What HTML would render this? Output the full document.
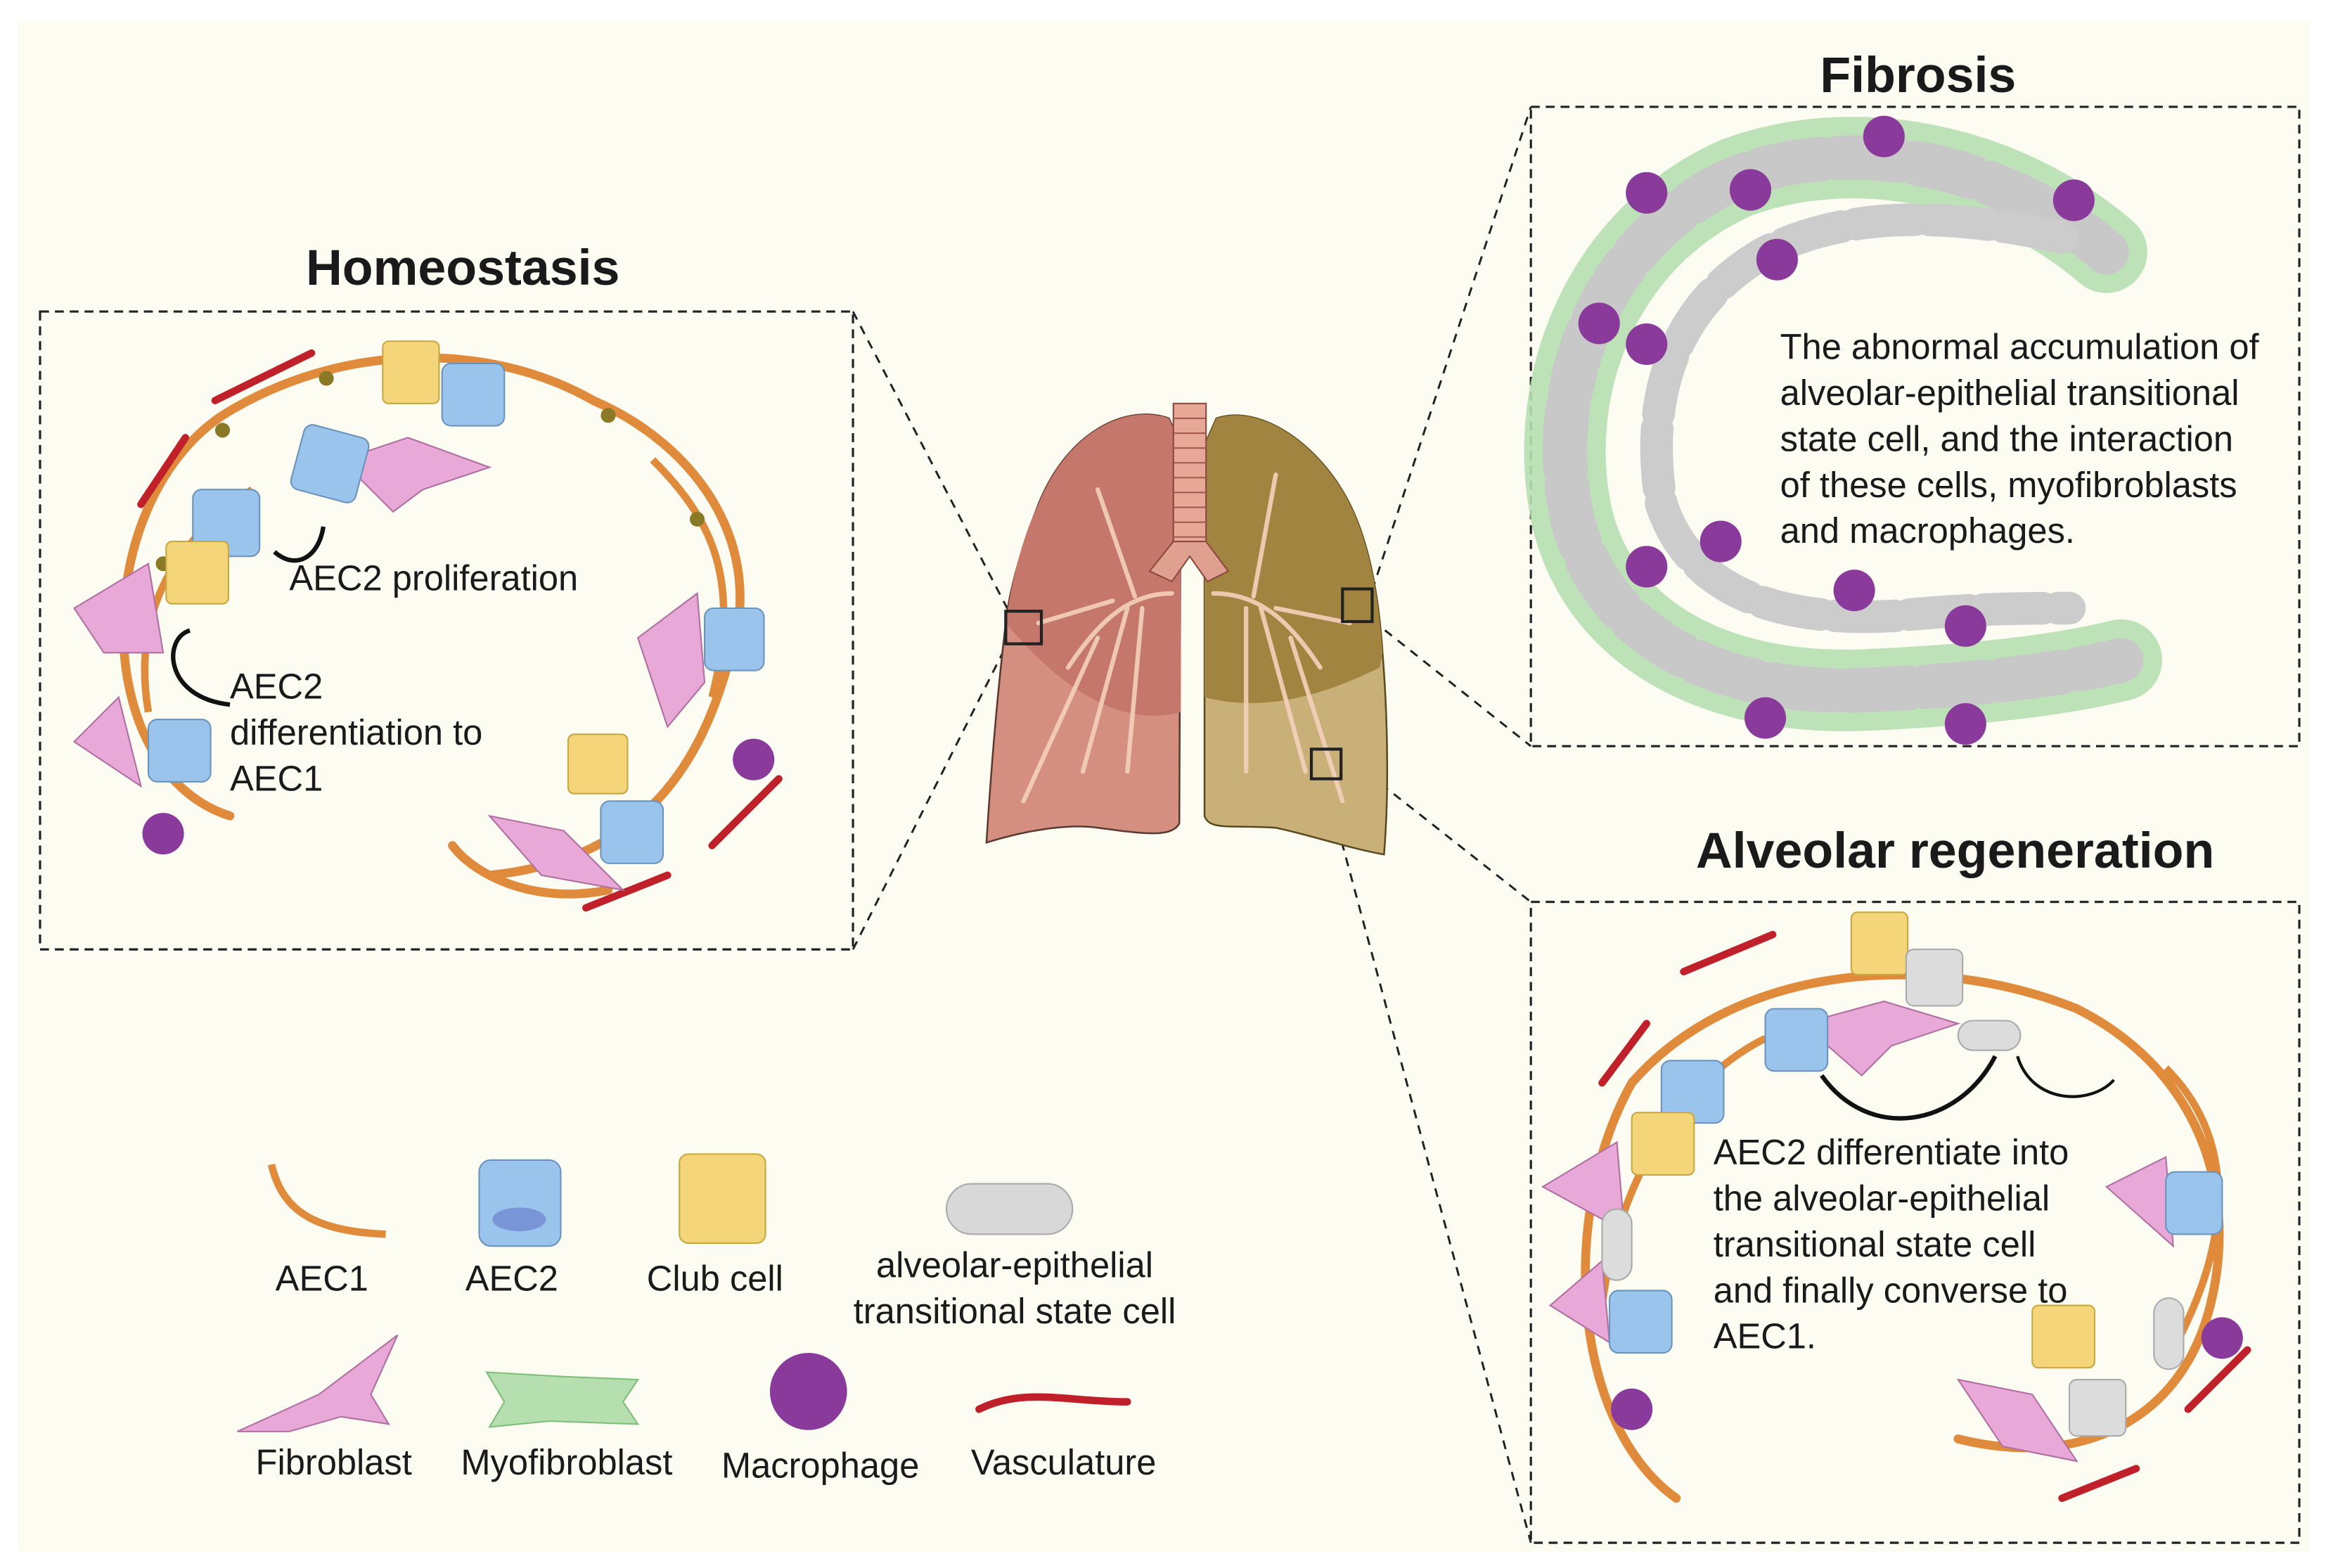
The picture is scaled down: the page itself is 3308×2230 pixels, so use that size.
<!DOCTYPE html>
<html><head><meta charset="utf-8"><style>
html,body{margin:0;padding:0;background:#fff;}
svg{display:block;}
text{font-family:"Liberation Sans",sans-serif;fill:#1a1a1a;}
</style></head><body>
<svg width="3308" height="2230" viewBox="0 0 1568 1057" xmlns="http://www.w3.org/2000/svg">
<rect x="0" y="0" width="1568" height="1057" fill="#fff"/>
<rect x="12" y="14" width="1545" height="1032" fill="#fcfcf2"/>

<g stroke="#222" stroke-width="1.4" stroke-dasharray="6,5" fill="none">
<line x1="575" y1="210" x2="680" y2="412"/>
<line x1="575" y1="640" x2="680" y2="432"/>
<line x1="925" y1="398" x2="1032" y2="72"/>
<line x1="925" y1="418" x2="1032" y2="503"/>
<line x1="905" y1="508" x2="1032" y2="608"/>
<line x1="893" y1="525" x2="1032" y2="1040"/>
</g>

<text x="312" y="192" font-size="34" font-weight="bold" text-anchor="middle">Homeostasis</text>
<text x="1293" y="62" font-size="34" font-weight="bold" text-anchor="middle">Fibrosis</text>
<text x="1318" y="585" font-size="34" font-weight="bold" text-anchor="middle">Alveolar regeneration</text>

<rect x="27" y="210" width="548" height="430" fill="none" stroke="#222" stroke-width="1.5" stroke-dasharray="6,4"/>
<rect x="1032" y="72" width="518" height="431" fill="none" stroke="#222" stroke-width="1.5" stroke-dasharray="6,4"/>
<rect x="1032" y="608" width="518" height="432" fill="none" stroke="#222" stroke-width="1.5" stroke-dasharray="6,4"/>

<g>
<path d="M788 282 C760 272 720 290 700 340 C688 370 680 400 678 420 C672 470 668 520 665 568 C690 560 720 555 740 558 C770 562 790 565 795 555 L796 300 Z" fill="#d58f80" stroke="#5a3a30" stroke-width="1.2"/>
<path d="M700 340 C720 290 760 272 788 282 L796 300 L796 480 C760 490 720 470 678 420 C682 390 690 360 700 340Z" fill="#c4776a"/>
<path d="M820 282 C850 272 890 300 910 340 C925 370 930 410 932 440 C936 490 936 540 933 576 C910 572 880 562 860 558 C830 556 815 560 812 550 L812 300 Z" fill="#c9b078" stroke="#5a4a20" stroke-width="1.2"/>
<path d="M820 282 C850 272 890 300 910 340 C925 370 930 410 932 440 L930 450 C890 470 850 480 812 470 L812 300Z" fill="#a1843f"/>
<rect x="791" y="272" width="22" height="100" fill="#e8a898" stroke="#8a4a40" stroke-width="1"/>
<g stroke="#a05a50" stroke-width="1"><line x1="791" y1="282" x2="813" y2="282"/><line x1="791" y1="292" x2="813" y2="292"/><line x1="791" y1="302" x2="813" y2="302"/><line x1="791" y1="312" x2="813" y2="312"/><line x1="791" y1="322" x2="813" y2="322"/><line x1="791" y1="332" x2="813" y2="332"/><line x1="791" y1="342" x2="813" y2="342"/><line x1="791" y1="352" x2="813" y2="352"/><line x1="791" y1="362" x2="813" y2="362"/></g>
<path d="M791 365 L775 385 L790 392 L802 375 L814 392 L828 385 L813 365Z" fill="#e0a090" stroke="#8a4a40" stroke-width="1"/>
<g stroke="#f4d0bb" stroke-width="3" fill="none" stroke-linecap="round" opacity="0.9">
<path d="M790 400 C760 400 740 420 720 450 M765 402 L740 330 M750 405 L700 420 M760 410 L730 520 M770 410 L760 520 M740 430 L690 540"/>
<path d="M818 400 C850 400 870 420 890 450 M845 402 L860 320 M860 410 L910 420 M850 410 L880 520 M840 410 L840 520 M870 430 L905 540"/>
</g>
<rect x="678" y="412" width="24" height="22" fill="none" stroke="#222" stroke-width="2"/>
<rect x="905" y="397" width="20" height="22" fill="none" stroke="#222" stroke-width="2"/>
<rect x="884" y="505" width="20" height="20" fill="none" stroke="#222" stroke-width="2"/>
</g>

<g>
<path d="M155 550 C60 520 60 340 150 280 C230 230 330 230 400 270 C470 300 520 370 490 450 C470 520 430 580 330 590 M410 600 C360 610 320 590 305 570" fill="none" stroke="#e08a3c" stroke-width="6" stroke-linecap="round"/>
<path d="M100 480 C90 420 110 370 170 330 M440 310 C480 350 500 390 480 470" fill="none" stroke="#e08a3c" stroke-width="5"/>
<g fill="#8a7a28"><circle cx="110" cy="380" r="5"/><circle cx="150" cy="290" r="5"/><circle cx="220" cy="255" r="5"/><circle cx="330" cy="260" r="5"/><circle cx="410" cy="280" r="5"/><circle cx="470" cy="350" r="5"/><circle cx="485" cy="440" r="5"/><circle cx="440" cy="550" r="5"/><circle cx="120" cy="520" r="5"/></g>
<g stroke="#c0202a" stroke-width="5" fill="none" stroke-linecap="round"><path d="M145 270 L210 238"/><path d="M125 295 L95 340"/><path d="M395 612 L450 590"/><path d="M480 570 L525 525"/></g>
<g fill="#e8a8d8" stroke="#b070a0"><path d="M230 310 L275 295 L330 315 L285 330 L265 345Z"/><path d="M50 410 L100 380 L110 440 L70 440Z"/><path d="M430 430 L470 400 L475 460 L450 490Z"/><path d="M330 550 L380 560 L420 600 L365 590 Z"/><path d="M50 500 L80 470 L95 530Z"/></g>
<g fill="#9ac4ec" stroke="#6a94bc"><rect x="200" y="290" width="45" height="45" rx="6" transform="rotate(15 222 312)"/><rect x="298" y="245" width="42" height="42" rx="6"/><rect x="130" y="330" width="45" height="45" rx="6"/><rect x="100" y="485" width="42" height="42" rx="6"/><rect x="475" y="410" width="40" height="42" rx="6"/><rect x="405" y="540" width="42" height="42" rx="6"/></g>
<g fill="#f4d57a" stroke="#c8a840"><rect x="258" y="230" width="38" height="42" rx="4"/><rect x="112" y="365" width="42" height="42" rx="4"/><rect x="383" y="495" width="40" height="40" rx="4"/></g>
<g fill="#8a3a9a"><circle cx="508" cy="512" r="14"/><circle cx="110" cy="562" r="14"/></g>
<path d="M185 372 C200 385 215 375 218 355" fill="none" stroke="#111" stroke-width="3"/>
<path d="M155 475 C110 470 110 430 128 425" fill="none" stroke="#111" stroke-width="3"/>
</g>
<text x="195" y="398" font-size="24">AEC2 proliferation</text>
<text font-size="24"><tspan x="155" y="471">AEC2</tspan><tspan x="155" y="502">differentiation to</tspan><tspan x="155" y="533">AEC1</tspan></text>

<g>
<path d="M1420 170 C1350 110 1250 90 1170 120 C1080 160 1040 260 1060 350 C1080 430 1160 470 1260 465 C1330 462 1390 455 1430 445" fill="none" stroke="#b6dfb0" stroke-width="55" stroke-linecap="round" opacity="0.9"/>
<path d="M1420 170 C1350 110 1250 90 1170 120 C1080 160 1040 260 1060 350 C1080 430 1160 470 1260 465 C1330 462 1390 455 1430 445" fill="none" stroke="#c8c8c8" stroke-width="30" stroke-dasharray="40,12" stroke-linecap="round"/>
<path d="M1390 160 C1320 145 1250 140 1190 170 C1120 210 1110 280 1120 340 C1140 400 1200 420 1280 415 C1330 410 1370 410 1395 410" fill="none" stroke="#cccccc" stroke-width="22" stroke-dasharray="40,10" stroke-linecap="round"/>
<g fill="#8a3a9a"><circle cx="1270" cy="92" r="14"/><circle cx="1110" cy="130" r="14"/><circle cx="1180" cy="128" r="14"/><circle cx="1398" cy="135" r="14"/><circle cx="1198" cy="175" r="14"/><circle cx="1078" cy="218" r="14"/><circle cx="1110" cy="232" r="14"/><circle cx="1160" cy="365" r="14"/><circle cx="1110" cy="382" r="14"/><circle cx="1250" cy="398" r="14"/><circle cx="1325" cy="422" r="14"/><circle cx="1190" cy="484" r="14"/><circle cx="1325" cy="488" r="14"/></g>
</g>
<rect x="1195" y="218" width="352" height="155" fill="#fcfcf2"/>
<text font-size="24"><tspan x="1200" y="242">The abnormal accumulation of</tspan><tspan x="1200" y="273">alveolar-epithelial transitional</tspan><tspan x="1200" y="304">state cell, and the interaction</tspan><tspan x="1200" y="335">of these cells, myofibroblasts</tspan><tspan x="1200" y="366">and macrophages.</tspan></text>

<g>
<path d="M1130 1010 C1060 960 1050 820 1100 730 C1170 650 1300 640 1400 680 C1480 720 1510 800 1490 880 C1470 960 1400 990 1320 970" fill="none" stroke="#e08a3c" stroke-width="6" stroke-linecap="round"/>
<path d="M1080 880 C1090 800 1130 730 1190 700 M1460 720 C1500 760 1510 820 1470 900" fill="none" stroke="#e08a3c" stroke-width="5"/>
<g stroke="#c0202a" stroke-width="5" fill="none" stroke-linecap="round"><path d="M1135 655 L1195 630"/><path d="M1110 690 L1080 730"/><path d="M1390 1010 L1440 990"/><path d="M1475 950 L1515 910"/></g>
<g fill="#e8a8d8" stroke="#b070a0"><path d="M1215 690 L1270 675 L1320 690 L1275 705 L1255 725Z"/><path d="M1040 800 L1090 770 L1095 830Z"/><path d="M1420 800 L1460 780 L1465 840Z"/><path d="M1320 930 L1370 940 L1400 985 L1350 975 Z"/><path d="M1045 880 L1080 850 L1085 905Z"/></g>
<g fill="#9ac4ec" stroke="#6a94bc"><rect x="1190" y="680" width="42" height="42" rx="6"/><rect x="1120" y="715" width="42" height="42" rx="6"/><rect x="1085" y="870" width="42" height="42" rx="6"/><rect x="1460" y="790" width="38" height="42" rx="6"/></g>
<g fill="#f4d57a" stroke="#c8a840"><rect x="1248" y="615" width="38" height="42" rx="4"/><rect x="1100" y="750" width="42" height="42" rx="4"/><rect x="1370" y="880" width="42" height="42" rx="4"/></g>
<g fill="#dcdcdc" stroke="#aaa"><rect x="1285" y="640" width="38" height="38" rx="5"/><rect x="1395" y="930" width="38" height="38" rx="5"/><rect x="1320" y="688" width="42" height="20" rx="10"/><rect x="1080" y="815" width="20" height="48" rx="10"/><rect x="1452" y="875" width="20" height="48" rx="10"/></g>
<g fill="#8a3a9a"><circle cx="1100" cy="950" r="14"/><circle cx="1498" cy="902" r="14"/></g>
<path d="M1228 725 C1260 770 1320 760 1345 712" fill="none" stroke="#111" stroke-width="3"/>
<path d="M1360 712 C1370 745 1410 745 1425 728" fill="none" stroke="#111" stroke-width="2"/>
</g>
<text font-size="24"><tspan x="1155" y="785">AEC2 differentiate into</tspan><tspan x="1155" y="816">the alveolar-epithelial</tspan><tspan x="1155" y="847">transitional state cell</tspan><tspan x="1155" y="878">and finally converse to</tspan><tspan x="1155" y="909">AEC1.</tspan></text>

<g>
<path d="M183 785 C190 815 210 830 260 832" fill="none" stroke="#e08a3c" stroke-width="5"/>
<text x="217" y="870" font-size="24" text-anchor="middle">AEC1</text>
<rect x="323" y="782" width="55" height="58" rx="8" fill="#9ac4ec" stroke="#6a94bc"/>
<ellipse cx="350" cy="822" rx="18" ry="8" fill="#7a94d8"/>
<text x="345" y="870" font-size="24" text-anchor="middle">AEC2</text>
<rect x="458" y="778" width="58" height="60" rx="6" fill="#f4d57a" stroke="#c8a840"/>
<text x="482" y="870" font-size="24" text-anchor="middle">Club cell</text>
<rect x="638" y="798" width="85" height="34" rx="17" fill="#d8d8d8" stroke="#aaa"/>
<text x="684" y="861" font-size="24" text-anchor="middle">alveolar-epithelial</text>
<text x="684" y="892" font-size="24" text-anchor="middle">transitional state cell</text>
<path d="M160 965 L215 940 L268 900 L250 940 L262 960 L230 955 L195 965Z" fill="#e8a8d8" stroke="#b070a0"/>
<text x="225" y="994" font-size="24" text-anchor="middle">Fibroblast</text>
<path d="M328 925 L380 928 L430 930 L420 945 L430 960 L370 958 L330 962 L340 945Z" fill="#b6dfb0" stroke="#7fbf7a"/>
<text x="382" y="994" font-size="24" text-anchor="middle">Myofibroblast</text>
<circle cx="545" cy="938" r="26" fill="#8a3a9a"/>
<text x="553" y="996" font-size="24" text-anchor="middle">Macrophage</text>
<path d="M660 950 C690 935 720 945 760 945" fill="none" stroke="#c0202a" stroke-width="5" stroke-linecap="round"/>
<text x="717" y="994" font-size="24" text-anchor="middle">Vasculature</text>
</g>
</svg>
</body></html>
